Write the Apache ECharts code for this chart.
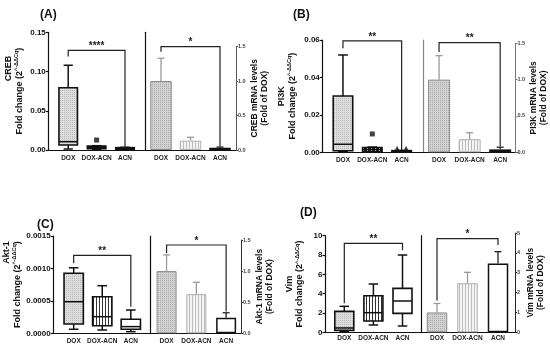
<!DOCTYPE html>
<html><head><meta charset="utf-8">
<script src="https://cdn.jsdelivr.net/npm/echarts@6/dist/echarts.min.js"></script>
<style>html,body{margin:0;padding:0;background:#fff}#c{width:550px;height:346px}</style>
</head><body><div id="c"></div>
<script>
const categories = ['DOX', 'DOX-ACN', 'ACN'];

// Panel A - CREB  (box stats: [min, Q1, median, Q3, max])
const crebBox = [[0.0013, 0.0064, 0.0106, 0.0794, 0.108], [0.0008, 0.0015, 0.003, 0.005, 0.0055], [0.0005, 0.001, 0.002, 0.003, 0.0035]];
const crebOutliers = [[1, 0.0127]];
const crebBar = [1.0, 0.135, 0.033];
const crebErr = [1.33, 0.184, 0.043];
const crebBoxBracket = [0, 2, 0.127, 0.119, 0.0042];
const crebBarBracket = [0, 2, 1.497, 1.425, 0.05];
const crebStars = ['****', '*'];
const crebLeftTicks = [0, 0.05, 0.10, 0.15];
const crebRightTicks = [0, 0.5, 1.0, 1.5];

// Panel B - PI3K
const pi3kBox = [[0.0004, 0.0008, 0.0043, 0.0301, 0.052], [0.0002, 0.0004, 0.0015, 0.0026, 0.0028], [0.0002, 0.0004, 0.0007, 0.0009, 0.001]];
const pi3kOutliers = [[1, 0.0098], [2, 0.0021], [2, 0.0021]];
const pi3kBar = [1.0, 0.18, 0.04];
const pi3kErr = [1.33, 0.27, 0.07];
const pi3kBoxBracket = [0, 2, 0.0595, 0.0556, 0.0012];
const pi3kBarBracket = [0, 2, 1.51, 1.38, 0.08];
const pi3kStars = ['**', '**'];
const pi3kLeftTicks = [0, 0.02, 0.04, 0.06];
const pi3kRightTicks = [0, 0.5, 1.0, 1.5];

// Panel C - Akt-1
const aktBox = [[0.000062, 0.000143, 0.000487, 0.000925, 0.00101], [0.000051, 0.000117, 0.000256, 0.000564, 0.000734], [0.000025, 0.000062, 0.000103, 0.000216, 0.000359]];
const aktOutliers = [];
const aktBar = [1.0, 0.63, 0.25];
const aktErr = [1.26, 0.82, 0.33];
const aktBoxBracket = [0, 2, 0.0012, 0.00108, 0.00041];
const aktBarBracket = [0, 2, 1.42, 1.285, 0.35];
const aktStars = ['**', '*'];
const aktLeftTicks = [0, 0.0005, 0.0010, 0.0015];
const aktRightTicks = [0, 0.5, 1.0, 1.5];

// Panel D - Vim
const vimBox = [[0.1, 0.2, 0.45, 2.17, 2.69], [0.76, 1.17, 2.03, 3.79, 5.0], [0.65, 1.96, 3.24, 4.55, 8.0]];
const vimOutliers = [];
const vimBar = [1.0, 2.47, 3.47];
const vimErr = [1.45, 3.02, 4.06];
const vimBoxBracket = [0, 2, 9.21, 3.0, 8.5];
const vimBarBracket = [0, 2, 4.72, 1.6, 4.4];
const vimStars = ['**', '*'];
const vimLeftTicks = [0, 2, 4, 6, 8, 10];
const vimRightTicks = [0, 1, 2, 3, 4, 5];

const panels = [
  { gene: 'CREB', box: crebBox, outliers: crebOutliers, bar: crebBar, err: crebErr, boxBracket: crebBoxBracket, barBracket: crebBarBracket, stars: crebStars, leftTicks: crebLeftTicks, rightTicks: crebRightTicks },
  { gene: 'PI3K', box: pi3kBox, outliers: pi3kOutliers, bar: pi3kBar, err: pi3kErr, boxBracket: pi3kBoxBracket, barBracket: pi3kBarBracket, stars: pi3kStars, leftTicks: pi3kLeftTicks, rightTicks: pi3kRightTicks },
  { gene: 'Akt-1', box: aktBox, outliers: aktOutliers, bar: aktBar, err: aktErr, boxBracket: aktBoxBracket, barBracket: aktBarBracket, stars: aktStars, leftTicks: aktLeftTicks, rightTicks: aktRightTicks },
  { gene: 'Vim', box: vimBox, outliers: vimOutliers, bar: vimBar, err: vimErr, boxBracket: vimBoxBracket, barBracket: vimBarBracket, stars: vimStars, leftTicks: vimLeftTicks, rightTicks: vimRightTicks }
];

// ---------- styles / layout ----------
const FONT = '"Liberation Sans", Arial, sans-serif';
function makePattern(w, h, bg, pts, fg) {
  const c = document.createElement('canvas'); c.width = w; c.height = h;
  const ctx = c.getContext('2d'); ctx.fillStyle = bg; ctx.fillRect(0, 0, w, h);
  ctx.fillStyle = fg; pts.forEach(p => ctx.fillRect(p[0], p[1], p[2] || 1, p[3] || 1));
  return { image: c, repeat: 'repeat' };
}
const dotsBox = makePattern(2, 2, '#dedede', [[0, 0]], '#b8b8b8');
const dotsBar = makePattern(2, 2, '#d2d2d2', [[0, 0]], '#ababab');
const vLight = makePattern(3, 1, '#f4f4f4', [[0, 0]], '#bdbdbd');
const vDark = makePattern(3, 1, '#ffffff', [[0, 0]], '#333333');
const hDark = makePattern(4, 2, '#ffffff', [[0, 0, 3, 1]], '#222222');

const layout = [
  { title: '(A)', tx: 35, ty: 4, axL: 48.3, boxL: 54, boxW: 85.2, sep: 145.7, barL: 146.25, barW: 88.5, axR: 236, topL: 32.3, topR: 46.5, base: 150,
    lDec: 2, rDec: 1, boxW_: 18.5, barWpx: 21.5, boxFills: [dotsBox, hDark, '#fff'], sepColor: '#111', rColor: '#555',
    nameGapL: 24, nameGapR: 12, geneAlign: 'right', genePad: [0, 8, 0, 0], outSym: ['rect'], outOff: [[0, 0]], labelMargin: 5 },
  { title: '(B)', tx: 288, ty: 4, axL: 322.3, boxL: 328.3, boxW: 88, sep: 423.3, barL: 423.8, barW: 93.9, axR: 517.7, topL: 40, topR: 43.3, base: 152.3,
    lDec: 2, rDec: 1, boxW_: 19.5, barWpx: 22, boxFills: [dotsBox, hDark, '#fff'], sepColor: '#888', rColor: '#777',
    nameGapL: 25, nameGapR: 12, geneAlign: 'center', genePad: [0, 0, 0, 0], outSym: ['rect', 'triangle', 'triangle'], outOff: [[0, 0], [-4.5, 0], [4.5, 0]], labelMargin: 4 },
  { title: '(C)', tx: 32, ty: 214, axL: 53.2, boxL: 59.4, boxW: 85.7, sep: 150, barL: 151.7, barW: 89.3, axR: 241, topL: 236, topR: 240, base: 333.3,
    lDec: 4, rDec: 1, boxW_: 19.3, barWpx: 20, boxFills: [dotsBox, vDark, '#fff'], sepColor: '#111', rColor: '#333',
    nameGapL: 26, nameGapR: 7, geneAlign: 'right', genePad: [0, 0, 0, 0], outSym: [], outOff: [], labelMargin: 4 },
  { title: '(D)', tx: 295, ty: 202, axL: 325, boxL: 329.75, boxW: 87.3, sep: 421.7, barL: 421.75, barW: 91.5, axR: 515, topL: 235.7, topR: 233, base: 332.3,
    lDec: 0, rDec: 0, boxW_: 19, barWpx: 20.5, boxFills: [dotsBox, vDark, '#fff'], sepColor: '#111', rColor: '#222',
    nameGapL: 20, nameGapR: 11, geneAlign: 'center', genePad: [0, 0, 0, 0], outSym: [], outOff: [], labelMargin: 2.5 }
];
const barFills = [dotsBar, vLight, '#ffffff'];
const barBorders = ['#8c8c8c', '#b0b0b0', '#111111'];
const barBorderW = [1, 1, 1.5];
const errColors = ['#9a9a9a', '#9a9a9a', '#222222'];

const option = { animation: false, title: [], grid: [], xAxis: [], yAxis: [], series: [] };

function bracketSeries(xi, yi, br, label) {
  return {
    type: 'custom', xAxisIndex: xi, yAxisIndex: yi, silent: true, z: 5,
    data: [br], encode: { x: [0, 1], y: [2, 3, 4] },
    renderItem: function (params, api) {
      const p1 = api.coord([api.value(0), api.value(2)]);
      const p2 = api.coord([api.value(1), api.value(2)]);
      const l = api.coord([api.value(0), api.value(3)]);
      const r = api.coord([api.value(1), api.value(4)]);
      return { type: 'group', children: [
        { type: 'polyline', shape: { points: [[p1[0], l[1]], [p1[0], p1[1]], [p2[0], p2[1]], [p2[0], r[1]]] }, style: { stroke: '#222', lineWidth: 1.2, fill: null } },
        { type: 'text', style: { text: label, x: (p1[0] + p2[0]) / 2, y: p1[1] + 1, align: 'center', verticalAlign: 'bottom', fontSize: 10, fontWeight: 'bold', fontFamily: FONT, fill: '#222' } }
      ] };
    }
  };
}

panels.forEach((p, k) => {
  const L = layout[k];
  const g0 = option.grid.length;
  option.grid.push({ left: L.boxL, top: L.topL, width: L.boxW, height: L.base - L.topL });
  option.grid.push({ left: L.barL, top: L.topR, width: L.barW, height: L.base - L.topR });
  option.grid.push({ left: L.axL, top: L.topL, width: L.axR - L.axL, height: L.base - L.topL });
  option.title.push({ text: L.title, left: L.tx, top: L.ty, textStyle: { fontSize: 12, fontWeight: 'bold', fontFamily: FONT, color: '#111' } });

  const catAxis = gi => ({ type: 'category', gridIndex: gi, data: categories, axisLine: { show: false }, axisTick: { show: false },
    axisLabel: { fontSize: 6.5, fontWeight: 'bold', fontFamily: FONT, color: '#222', margin: L.labelMargin, interval: 0 } });
  const x0 = option.xAxis.length;
  option.xAxis.push(catAxis(g0), catAxis(g0 + 1),
    { type: 'value', gridIndex: g0 + 2, min: 0, max: 1, axisLine: { show: true, lineStyle: { color: '#111', width: 1.2 } }, axisTick: { show: false }, axisLabel: { show: false }, splitLine: { show: false } });

  const lt = p.leftTicks, rt = p.rightTicks;
  const lMin = lt[0], lMax = lt[lt.length - 1], lInt = lt[1] - lt[0];
  const rMin = rt[0], rMax = rt[rt.length - 1], rInt = rt[1] - rt[0];
  const y0 = option.yAxis.length;
  option.yAxis.push(
    { type: 'value', gridIndex: g0, position: 'left', offset: L.boxL - L.axL, min: lMin, max: lMax, interval: lInt,
      axisLine: { show: true, lineStyle: { color: '#111', width: 1.2 } }, axisTick: { show: true, length: 2.5, lineStyle: { color: '#111', width: 1.2 } },
      axisLabel: { fontSize: 8, fontWeight: 'bold', fontFamily: FONT, color: '#111', margin: 2.5, formatter: v => v.toFixed(L.lDec) },
      splitLine: { show: false },
      name: '{g|' + p.gene + '}\n{a|Fold change (2}{s|^-ΔΔCq}{a|)}', nameLocation: 'middle', nameRotate: 90, nameGap: L.nameGapL,
      nameTextStyle: { fontFamily: FONT, fontSize: 9, fontWeight: 'bold', color: '#111', lineHeight: 10.5,
        rich: { g: { fontSize: 9, fontWeight: 'bold', fontFamily: FONT, color: '#111', align: L.geneAlign, padding: L.genePad, lineHeight: 10.5 },
                a: { fontSize: 9, fontWeight: 'bold', fontFamily: FONT, color: '#111', lineHeight: 10.5 },
                s: { fontSize: 5.5, fontWeight: 'bold', fontFamily: FONT, color: '#111', verticalAlign: 'top', lineHeight: 10.5 } } } },
    { type: 'value', gridIndex: g0, position: 'right', offset: L.sep - (L.boxL + L.boxW), min: lMin, max: lMax, interval: lInt,
      axisLine: { show: true, lineStyle: { color: L.sepColor, width: 1.2 } }, axisTick: { show: false }, axisLabel: { show: false }, splitLine: { show: false } },
    { type: 'value', gridIndex: g0 + 1, position: 'right', offset: L.axR - (L.barL + L.barW), min: rMin, max: rMax, interval: rInt,
      axisLine: { show: true, lineStyle: { color: L.rColor, width: 1 } }, axisTick: { show: true, length: 2, lineStyle: { color: L.rColor, width: 1 } },
      axisLabel: { fontSize: 5.5, fontWeight: 'bold', fontFamily: FONT, color: '#444', margin: 2, formatter: v => v.toFixed(L.rDec) },
      splitLine: { show: false },
      name: p.gene + ' mRNA levels\n(Fold of DOX)', nameLocation: 'middle', nameRotate: 90, nameGap: L.nameGapR,
      nameTextStyle: { fontFamily: FONT, fontSize: 8.5, fontWeight: 'bold', color: '#111', lineHeight: 10 } },
    { type: 'value', gridIndex: g0 + 2, min: 0, max: 1, show: false }
  );

  // boxes
  option.series.push({
    type: 'custom', xAxisIndex: x0, yAxisIndex: y0, silent: true, z: 3,
    data: p.box.map((s, i) => [i].concat(s)), encode: { x: 0, y: [1, 2, 3, 4, 5] },
    renderItem: function (params, api) {
      const i = api.value(0);
      const c = d => api.coord([i, api.value(d)]);
      const pMin = c(1), pQ1 = c(2), pMed = c(3), pQ3 = c(4), pMax = c(5);
      const x = pMin[0], bw = L.boxW_, cw = bw * 0.5;
      const st = { stroke: '#111', lineWidth: 1.5 };
      return { type: 'group', children: [
        { type: 'line', shape: { x1: x, y1: pQ3[1], x2: x, y2: pMax[1] }, style: st },
        { type: 'line', shape: { x1: x - cw / 2, y1: pMax[1], x2: x + cw / 2, y2: pMax[1] }, style: st },
        { type: 'line', shape: { x1: x, y1: pQ1[1], x2: x, y2: pMin[1] }, style: st },
        { type: 'line', shape: { x1: x - cw / 2, y1: pMin[1], x2: x + cw / 2, y2: pMin[1] }, style: st },
        { type: 'rect', shape: { x: x - bw / 2, y: pQ3[1], width: bw, height: pQ1[1] - pQ3[1] }, style: { fill: L.boxFills[i], stroke: '#111', lineWidth: 1.6 } },
        { type: 'line', shape: { x1: x - bw / 2, y1: pMed[1], x2: x + bw / 2, y2: pMed[1] }, style: st }
      ] };
    }
  });
  // outliers
  if (p.outliers.length) {
    option.series.push({
      type: 'scatter', xAxisIndex: x0, yAxisIndex: y0, silent: true, z: 4,
      data: p.outliers.map((o, i) => ({ value: o, symbol: L.outSym[i], symbolOffset: L.outOff[i] })),
      symbolSize: 5, itemStyle: { color: '#111' }
    });
  }
  option.series.push(bracketSeries(x0, y0, p.boxBracket, p.stars[0]));

  // bars
  option.series.push({
    type: 'bar', xAxisIndex: x0 + 1, yAxisIndex: y0 + 2, silent: true, barWidth: L.barWpx, z: 2,
    data: p.bar.map((v, i) => ({ value: v, itemStyle: { color: barFills[i], borderColor: barBorders[i], borderWidth: barBorderW[i] } }))
  });
  option.series.push({
    type: 'custom', xAxisIndex: x0 + 1, yAxisIndex: y0 + 2, silent: true, z: 3,
    data: p.bar.map((v, i) => [i, v, p.err[i]]), encode: { x: 0, y: [1, 2] },
    renderItem: function (params, api) {
      const i = api.value(0);
      const a = api.coord([i, api.value(1)]), b = api.coord([i, api.value(2)]);
      const st = { stroke: errColors[i], lineWidth: 1.3 };
      return { type: 'group', children: [
        { type: 'line', shape: { x1: a[0], y1: a[1], x2: b[0], y2: b[1] }, style: st },
        { type: 'line', shape: { x1: b[0] - 3.5, y1: b[1], x2: b[0] + 3.5, y2: b[1] }, style: st }
      ] };
    }
  });
  option.series.push(bracketSeries(x0 + 1, y0 + 2, p.barBracket, p.stars[1]));
});

const chart = echarts.init(document.getElementById('c'), null, { renderer: 'canvas' });
chart.setOption(option);
</script>
</body></html>
